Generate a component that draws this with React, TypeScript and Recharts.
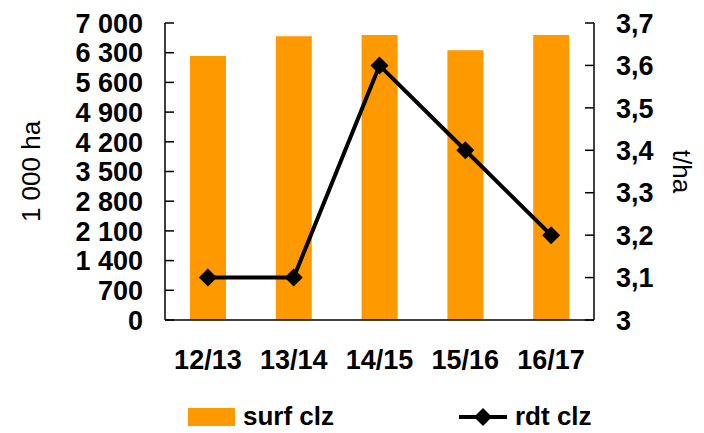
import { Bar, ComposedChart, Legend, Line, XAxis, YAxis } from 'recharts'

const CATEGORIES = ['12/13', '13/14', '14/15', '15/16', '16/17']
const SURF_CLZ = [6220, 6690, 6720, 6360, 6720]
const RDT_CLZ = [3.1, 3.1, 3.6, 3.4, 3.2]
const LEFT_TICKS = [0, 700, 1400, 2100, 2800, 3500, 4200, 4900, 5600, 6300, 7000]
const RIGHT_TICKS = [3, 3.1, 3.2, 3.3, 3.4, 3.5, 3.6, 3.7]

const data = CATEGORIES.map((c, i) => ({ c, surf: SURF_CLZ[i], rdt: RDT_CLZ[i] }))

const FONT = '"Liberation Sans", Arial, sans-serif'
const ORANGE = '#FF9900'
const TICK_GAP = 22

const fmtLeft = (v: number) => v.toLocaleString('fr-FR').replace(/\s/g, ' ')
const fmtRight = (v: number) => String(v).replace('.', ',')

function LeftTick(props: any) {
  const { x, y, payload } = props
  const axisX = x + TICK_GAP
  return (
    <g>
      <line x1={axisX} x2={axisX + 9} y1={y} y2={y} stroke="#000" strokeWidth={1.5} />
      <text x={x} y={y} dy="0.36em" textAnchor="end" fontSize={27} fontWeight="bold" fill="#000" fontFamily={FONT}>
        {fmtLeft(payload.value)}
      </text>
    </g>
  )
}

function RightTick(props: any) {
  const { x, y, payload } = props
  const axisX = x - TICK_GAP
  return (
    <g>
      <line x1={axisX - 9} x2={axisX} y1={y} y2={y} stroke="#000" strokeWidth={1.5} />
      <text x={x} y={y} dy="0.36em" textAnchor="start" fontSize={27} fontWeight="bold" fill="#000" fontFamily={FONT}>
        {fmtRight(payload.value)}
      </text>
    </g>
  )
}

function Diamond(props: any) {
  const { cx, cy } = props
  if (cx == null || cy == null) return null
  const r = 9
  return <polygon points={`${cx},${cy - r} ${cx + r},${cy} ${cx},${cy + r} ${cx - r},${cy}`} fill="#000" />
}

function LegendBox() {
  const text = { position: 'absolute' as const, top: 0, fontSize: 26, fontWeight: 'bold' as const, fontFamily: FONT, lineHeight: '24px', whiteSpace: 'nowrap' as const }
  return (
    <div style={{ position: 'relative', height: 26, width: 704 }}>
      <div style={{ position: 'absolute', left: 188, top: 4, width: 47, height: 18, background: ORANGE }} />
      <span style={{ ...text, left: 243 }}>surf clz</span>
      <svg style={{ position: 'absolute', left: 459, top: 1 }} width={50} height={24}>
        <line x1={0} x2={48} y1={12} y2={12} stroke="#000" strokeWidth={4} />
        <polygon points="24,3 33,12 24,21 15,12" fill="#000" />
      </svg>
      <span style={{ ...text, left: 515 }}>rdt clz</span>
    </div>
  )
}

export default function App() {
  return (
    <div style={{ position: 'absolute', left: 0, top: 0, background: '#fff' }}>
      <ComposedChart
        width={704}
        height={433}
        data={data}
        margin={{ top: 23, right: 0, bottom: 3, left: 0 }}
        style={{ fontFamily: FONT }}
      >
        <XAxis
          dataKey="c"
          height={84}
          tickLine={false}
          tickSize={0}
          tickMargin={30}
          axisLine={{ stroke: '#000', strokeWidth: 1.5 }}
          tick={{ fontSize: 27, fontWeight: 'bold', fill: '#000', fontFamily: FONT }}
        />
        <YAxis
          yAxisId="l"
          orientation="left"
          width={165}
          domain={[0, 7000]}
          ticks={LEFT_TICKS}
          interval={0}
          tickLine={false}
          tickSize={0}
          tickMargin={TICK_GAP}
          axisLine={{ stroke: '#000', strokeWidth: 1.5 }}
          tick={<LeftTick />}
          label={(p: any) => {
            const vb = p.viewBox
            const cx = vb.x + 31
            const cy = vb.y + vb.height / 2
            return (
              <text x={cx} y={cy} transform={`rotate(-90 ${cx} ${cy})`} textAnchor="middle" dominantBaseline="central" fontSize={26} fill="#000" fontFamily={FONT}>
                1 000 ha
              </text>
            )
          }}
        />
        <YAxis
          yAxisId="r"
          orientation="right"
          width={110}
          domain={[3, 3.7]}
          ticks={RIGHT_TICKS}
          interval={0}
          tickLine={false}
          tickSize={0}
          tickMargin={TICK_GAP}
          axisLine={{ stroke: '#000', strokeWidth: 1.5 }}
          tick={<RightTick />}
          label={(p: any) => {
            const vb = p.viewBox
            const cx = vb.x + 88
            const cy = vb.y + vb.height / 2
            return (
              <text x={cx} y={cy} transform={`rotate(90 ${cx} ${cy})`} textAnchor="middle" dominantBaseline="central" fontSize={26} fill="#000" fontFamily={FONT}>
                t/ha
              </text>
            )
          }}
        />
        <Legend verticalAlign="bottom" content={<LegendBox />} />
        <Bar yAxisId="l" dataKey="surf" name="surf clz" fill={ORANGE} barSize={36} isAnimationActive={false} />
        <Line
          yAxisId="r"
          dataKey="rdt"
          name="rdt clz"
          type="linear"
          stroke="#000"
          strokeWidth={4}
          dot={<Diamond />}
          activeDot={false}
          isAnimationActive={false}
        />
      </ComposedChart>
    </div>
  )
}
